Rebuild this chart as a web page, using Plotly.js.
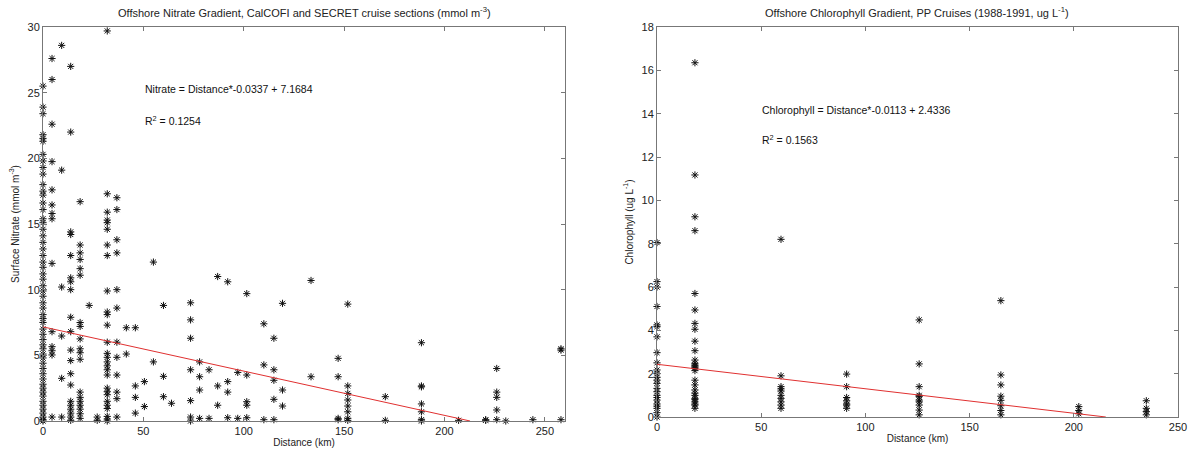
<!DOCTYPE html>
<html>
<head>
<meta charset="utf-8">
<script src="https://cdn.plot.ly/plotly-3.0.1.min.js"></script>
<style>html,body{margin:0;padding:0;background:#fff}#chart{width:1191px;height:453px}</style>
</head>
<body>
<div id="chart"></div>
<script>
// ---------- Nitrate (left panel) ----------
const nitrateStations = [0, 4.5, 9.3, 13.8, 18.5, 23, 27, 32, 36.8, 41.5, 46, 50.5, 55, 60, 64, 73.5, 78, 82.7, 87, 92, 97, 101.5, 110, 115, 119.3, 133.5, 147, 151.8, 170.5, 188.5, 207, 220.5, 226, 230.5, 244, 258];
const nitrateValues = [
  [25.5, 23.9, 23.4, 21.8, 21.5, 21.3, 20.3, 19.8, 19.3, 18.8, 18.0, 17.5, 17.2, 16.6, 16.1, 15.4, 15.1, 14.6, 14.1, 13.6, 13.1, 12.6, 12.1, 11.7, 11.2, 10.8, 10.3, 9.9, 9.5, 9.0, 8.6, 8.1, 7.8, 7.5, 7.0, 6.6, 6.2, 5.8, 5.5, 5.1, 4.8, 4.4, 4.0, 3.6, 3.2, 2.8, 2.5, 2.2, 1.9, 1.5, 1.2, 0.9, 0.6, 0.3, 0.1, 0.0],
  [27.6, 26.0, 22.6, 19.75, 17.6, 16.45, 15.8, 15.4, 12.0, 6.8, 5.66, 5.35, 5.03, 0.3],
  [28.6, 19.1, 10.2, 6.47, 3.25, 0.3],
  [27.0, 22.0, 14.4, 14.2, 12.6, 10.9, 10.6, 10.0, 7.9, 6.8, 5.4, 4.6, 3.6, 2.74, 1.5, 1.2, 0.9, 0.6, 0.3, 0.05],
  [16.7, 13.4, 12.8, 12.3, 11.6, 11.1, 7.5, 7.2, 6.25, 5.5, 5.2, 4.7, 2.2, 1.8, 1.5, 1.2, 0.9, 0.55, 0.2],
  [8.8],
  [0.3, 0.05],
  [29.7, 17.3, 15.9, 15.3, 15.1, 14.6, 13.4, 12.6, 9.9, 8.3, 8.1, 7.3, 6.0, 5.15, 4.85, 4.5, 4.2, 3.9, 3.5, 2.5, 2.23, 2.0, 1.5, 1.2, 0.95, 0.35, 0.15, 0.0],
  [17.0, 16.1, 13.8, 12.8, 10.0, 8.6, 6.0, 4.85, 3.5, 2.2, 1.7, 0.3],
  [7.1, 5.1],
  [7.1, 2.67, 1.8, 0.6],
  [3.0, 1.1],
  [12.1, 4.5],
  [8.8, 3.4, 1.85],
  [1.35],
  [9.0, 7.7, 6.3, 3.9, 1.55, 0.3, 0.0],
  [4.5, 3.37, 2.36, 0.2],
  [3.9, 0.2],
  [11.0, 2.67, 1.2],
  [10.6, 3.0, 2.2, 0.25],
  [3.7, 0.2],
  [9.7, 3.5, 1.47, 1.2, 0.25],
  [7.4, 4.27, 0.1],
  [6.3, 3.9, 3.1, 1.65, 0.1],
  [8.96, 2.36, 1.14],
  [10.7, 3.37],
  [4.77, 3.37, 0.2, 0.1],
  [8.9, 2.67, 2.1, 1.6, 1.14, 0.7, 0.2, 0.05],
  [1.85, 0.05],
  [5.96, 2.67, 2.6, 1.3, 0.7, 0.1, 0.0],
  [0.05],
  [0.1, 0.05],
  [4.0, 2.2, 1.8, 0.84, 0.1],
  [0.0],
  [0.1],
  [5.5, 5.4, 0.1]
];
const nitrateFit = {slope: -0.0337, intercept: 7.1684, r2: 0.1254};

// ---------- Chlorophyll (right panel) ----------
const chlStations = [0, 18.2, 59.5, 91, 125.8, 165, 202.4, 234.8];
const chlValues = [
  [8.05, 6.25, 6.0, 5.1, 4.25, 4.17, 3.7, 2.97, 2.5, 2.17, 2.0, 1.83, 1.7, 1.55, 1.32, 1.17, 1.0, 0.9, 0.78, 0.6, 0.5, 0.4, 0.2, 0.0],
  [16.35, 11.17, 9.24, 8.6, 5.7, 4.94, 4.32, 4.05, 3.5, 3.06, 2.63, 2.48, 2.4, 2.35, 2.3, 2.25, 2.14, 1.7, 1.48, 1.25, 1.1, 1.0, 0.86, 0.8, 0.7, 0.6, 0.55, 0.4],
  [8.2, 1.9, 1.4, 1.3, 1.2, 1.0, 0.86, 0.7, 0.55, 0.4],
  [1.98, 1.4, 0.9, 0.75, 0.6, 0.55, 0.4],
  [4.48, 2.45, 1.4, 1.0, 0.94, 0.78, 0.7, 0.55, 0.32, 0.1],
  [5.37, 1.94, 1.48, 0.96, 0.77, 0.52, 0.3, 0.1],
  [0.48, 0.3, 0.15],
  [0.75, 0.4, 0.25, 0.1]
];
const chlFit = {slope: -0.0113, intercept: 2.4336, r2: 0.1563};

// ---------- Text ----------
const leftTitle = 'Offshore Nitrate Gradient, CalCOFI and SECRET cruise sections (mmol m<sup>-3</sup>)';
const rightTitle = 'Offshore Chlorophyll Gradient, PP Cruises (1988-1991, ug L<sup>-1</sup>)';
const leftYTitle = 'Surface Nitrate (mmol m<sup>-3</sup>)';
const rightYTitle = 'Chlorophyll (ug L<sup>-1</sup>)';
const xTitle = 'Distance (km)';

function flatten(stations, values) {
  const x = [], y = [];
  stations.forEach((d, i) => values[i].forEach(v => { x.push(d); y.push(v); }));
  return {x, y};
}
function fitLine(fit) {
  const xEnd = -fit.intercept / fit.slope;
  return {x: [0, xEnd], y: [fit.intercept, fit.intercept + fit.slope * xEnd]};
}

const nPts = flatten(nitrateStations, nitrateValues);
const cPts = flatten(chlStations, chlValues);
const nLine = fitLine(nitrateFit);
const cLine = fitLine(chlFit);

const markerStyle = {symbol: 'asterisk-open', size: 6, color: '#111', line: {color: '#111', width: 1}};

const traces = [
  {x: nPts.x, y: nPts.y, type: 'scatter', mode: 'markers', marker: markerStyle, xaxis: 'x', yaxis: 'y', showlegend: false, cliponaxis: false},
  {x: nLine.x, y: nLine.y, type: 'scatter', mode: 'lines', line: {color: '#e03030', width: 1}, xaxis: 'x', yaxis: 'y', showlegend: false},
  {x: cPts.x, y: cPts.y, type: 'scatter', mode: 'markers', marker: markerStyle, xaxis: 'x2', yaxis: 'y2', showlegend: false, cliponaxis: false},
  {x: cLine.x, y: cLine.y, type: 'scatter', mode: 'lines', line: {color: '#e03030', width: 1}, xaxis: 'x2', yaxis: 'y2', showlegend: false}
];

const W = 1191, H = 453;
const font = {family: 'Liberation Sans, Arial, sans-serif', size: 10, color: '#222'};
function axis(extra) {
  return Object.assign({
    showline: true, linecolor: '#777', linewidth: 1, mirror: 'ticks',
    ticks: 'inside', ticklen: 4, tickcolor: '#777', showgrid: false, zeroline: false,
    tickfont: {family: font.family, size: 11, color: '#222'}, fixedrange: true
  }, extra);
}

const layout = {
  width: W, height: H,
  margin: {l: 0, r: 0, t: 0, b: 0},
  paper_bgcolor: '#fff', plot_bgcolor: '#fff',
  font: font,
  showlegend: false,
  xaxis: axis({domain: [43 / W, 565 / W], range: [0, 260], tickvals: [0, 50, 100, 150, 200, 250], anchor: 'y',
    title: {text: xTitle, font: {size: 10, family: font.family, color: '#222'}, standoff: 2}}),
  yaxis: axis({domain: [1 - 421 / H, 1 - 27 / H], range: [0, 30], tickvals: [0, 5, 10, 15, 20, 25, 30], anchor: 'x',
    title: {text: leftYTitle, font: {size: 10, family: font.family, color: '#222'}, standoff: 6}}),
  xaxis2: axis({domain: [657 / W, 1178 / W], range: [0, 250], tickvals: [0, 50, 100, 150, 200, 250], anchor: 'y2',
    title: {text: xTitle, font: {size: 10, family: font.family, color: '#222'}, standoff: 2}}),
  yaxis2: axis({domain: [1 - 417 / H, 1 - 27 / H], range: [0, 18], tickvals: [0, 2, 4, 6, 8, 10, 12, 14, 16, 18], anchor: 'x2',
    title: {text: rightYTitle, font: {size: 10, family: font.family, color: '#222'}, standoff: 6}}),
  annotations: [
    {text: leftTitle, xref: 'paper', yref: 'paper', x: 304 / W, y: 1 - 12 / H, xanchor: 'center', yanchor: 'middle', showarrow: false, font: {size: 11, family: font.family, color: '#222'}},
    {text: rightTitle, xref: 'paper', yref: 'paper', x: 917 / W, y: 1 - 12 / H, xanchor: 'center', yanchor: 'middle', showarrow: false, font: {size: 11, family: font.family, color: '#222'}},
    {text: 'Nitrate = Distance*' + nitrateFit.slope + ' + ' + nitrateFit.intercept, xref: 'x', yref: 'y', x: 50, y: 25.3, xanchor: 'left', yanchor: 'middle', showarrow: false, font: {size: 10.5, family: font.family, color: '#111'}},
    {text: 'R<sup>2</sup> = ' + nitrateFit.r2, xref: 'x', yref: 'y', x: 50, y: 22.9, xanchor: 'left', yanchor: 'middle', showarrow: false, font: {size: 10.5, family: font.family, color: '#111'}},
    {text: 'Chlorophyll = Distance*' + chlFit.slope + ' + ' + chlFit.intercept, xref: 'x2', yref: 'y2', x: 49.4, y: 14.17, xanchor: 'left', yanchor: 'middle', showarrow: false, font: {size: 10.5, family: font.family, color: '#111'}},
    {text: 'R<sup>2</sup> = ' + chlFit.r2, xref: 'x2', yref: 'y2', x: 49.4, y: 12.83, xanchor: 'left', yanchor: 'middle', showarrow: false, font: {size: 10.5, family: font.family, color: '#111'}}
  ]
};

Plotly.newPlot('chart', traces, layout, {staticPlot: true, displayModeBar: false});
</script>
</body>
</html>
